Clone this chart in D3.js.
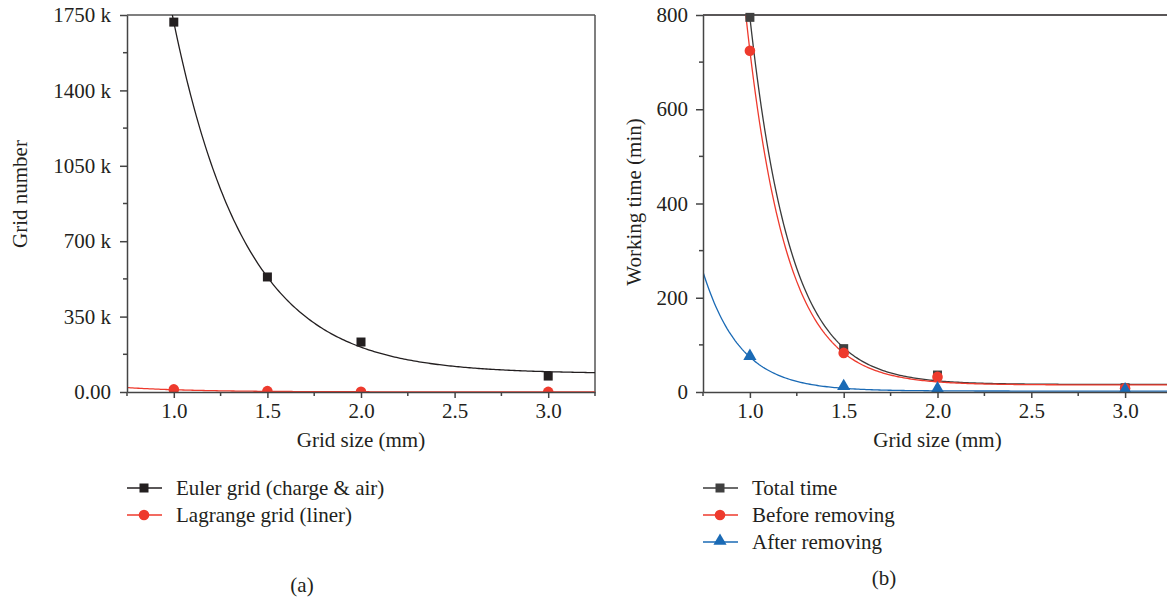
<!DOCTYPE html>
<html>
<head>
<meta charset="utf-8">
<script src="https://cdn.jsdelivr.net/npm/d3@7"></script>
<style>
  body { margin: 0; background: #fff; }
  svg text { font-family: "Liberation Serif", serif; fill: #231f20; }
</style>
</head>
<body>
<div id="chart"></div>
<script>
// grid sizes (mm)
var gridSize = [1.0, 1.5, 2.0, 3.0];

// (a) grid number, in k
var eulerGrid = [1717, 534, 232, 74];
var lagrangeGrid = [12, 4, 1, 0.5];
// exp decay fits: [y0, A, t] -> y0 + A*exp(-(x-1)/t)
var eulerFit = [85, 1632, 0.387];
var lagrangeFit = [0.5, 10, 0.36];

// (b) working time, in min
var totalTime = [795, 92, 36, 9];
var beforeRemoving = [724, 83, 32, 8];
var afterRemoving = [74, 10, 5, 3];
var totalFit = [16, 779, 0.217];
var beforeFit = [15, 709, 0.213];
var afterFit = [2, 72, 0.199];

var xTicks = [1.0, 1.5, 2.0, 2.5, 3.0];
var gridTicks = [0, 350, 700, 1050, 1400, 1750];
var timeTicks = [0, 200, 400, 600, 800];

var BLACK = "#231f20", GREY = "#3a3a3a", RED = "#ee3a2d", BLUE = "#1a6ab5";
var FS = 21;

var svg = d3.select("#chart").append("svg")
    .attr("width", 1167).attr("height", 599);

function fitLine(p) {
  return d3.range(0.75, 3.2501, 0.01).map(function(x) {
    return [x, p[0] + p[1] * Math.exp(-(x - 1) / p[2])];
  });
}

function marker(g, shape, color, cx, cy) {
  if (shape == "square") {
    g.append("rect").attr("x", cx - 4.5).attr("y", cy - 4.5)
      .attr("width", 9).attr("height", 9).attr("fill", color);
  } else if (shape == "circle") {
    g.append("circle").attr("cx", cx).attr("cy", cy).attr("r", 5.3).attr("fill", color);
  } else {
    g.append("path").attr("d", d3.symbol(d3.symbolTriangle, 75)())
      .attr("transform", "translate(" + cx + "," + (cy - 1) + ")").attr("fill", color);
  }
}

function drawPanel(cfg) {
  var x = d3.scaleLinear().domain([0.75, 3.25]).range([cfg.left, cfg.right]);
  var y = d3.scaleLinear().domain([0, cfg.ymax]).range([392, 15]);
  var id = "clip" + cfg.name;

  svg.append("clipPath").attr("id", id).append("rect")
    .attr("x", cfg.left).attr("y", 15).attr("width", cfg.right - cfg.left).attr("height", 377);
  svg.append("clipPath").attr("id", id + "m").append("rect")
    .attr("x", cfg.left).attr("y", 0).attr("width", cfg.right - cfg.left).attr("height", 392);

  // frame
  svg.append("line").attr("x1", cfg.left).attr("x2", cfg.right).attr("y1", 15).attr("y2", 15)
    .attr("stroke", cfg.frame).attr("stroke-width", 1.5);
  svg.append("line").attr("x1", cfg.right).attr("x2", cfg.right).attr("y1", 15).attr("y2", 392)
    .attr("stroke", cfg.frame).attr("stroke-width", 1.5);

  var line = d3.line().x(function(d) { return x(d[0]); }).y(function(d) { return y(d[1]); });
  var curves = svg.append("g").attr("clip-path", "url(#" + id + ")");
  var marks = svg.append("g").attr("clip-path", "url(#" + id + "m)");

  cfg.series.forEach(function(s) {
    curves.append("path").datum(fitLine(s.fit)).attr("d", line)
      .attr("fill", "none").attr("stroke", s.line || s.color).attr("stroke-width", 1.3);
  });
  cfg.series.forEach(function(s) {
    s.values.forEach(function(v, i) {
      marker(marks, s.shape, s.color, x(gridSize[i]), y(v));
    });
  });

  // axes
  var xAxis = d3.axisBottom(x).tickValues(xTicks).tickFormat(d3.format(".1f"))
    .tickSizeInner(6).tickSizeOuter(0).tickPadding(5);
  var gx = svg.append("g").attr("transform", "translate(0,392)").call(xAxis);
  gx.append("g").selectAll("line").data(d3.range(0.75, 3.26, 0.5)).enter().append("line")
    .attr("x1", function(d) { return x(d); }).attr("x2", function(d) { return x(d); })
    .attr("y1", 0).attr("y2", 4);

  var yAxis = d3.axisLeft(y).tickValues(cfg.yTicks).tickFormat(cfg.yFormat)
    .tickSizeInner(7).tickSizeOuter(0).tickPadding(cfg.ypad);
  var gy = svg.append("g").attr("transform", "translate(" + cfg.left + ",0)").call(yAxis);
  var step = cfg.yTicks[1] - cfg.yTicks[0];
  gy.append("g").selectAll("line").data(cfg.yTicks.slice(1).map(function(t) { return t - step / 2; }))
    .enter().append("line")
    .attr("y1", function(d) { return y(d); }).attr("y2", function(d) { return y(d); })
    .attr("x1", 0).attr("x2", -4);

  [gx, gy].forEach(function(g) {
    g.selectAll("path, line").attr("stroke", "#444").attr("stroke-width", 1.5);
    g.selectAll("text").attr("font-size", FS).attr("fill", BLACK)
      .style("font-family", "'Liberation Serif', serif");
  });

  svg.append("text").attr("x", (cfg.left + cfg.right) / 2).attr("y", 447)
    .attr("text-anchor", "middle").attr("font-size", FS).text("Grid size (mm)");
  svg.append("text").attr("transform", "translate(" + cfg.ylabelX + "," + cfg.ylabelY + ") rotate(-90)")
    .attr("text-anchor", "middle").attr("dy", "0.35em").attr("font-size", FS).text(cfg.ylabel);

  // legend
  cfg.series.forEach(function(s, i) {
    var ly = 488 + i * 27;
    svg.append("line").attr("x1", cfg.left).attr("x2", cfg.left + 35).attr("y1", ly).attr("y2", ly)
      .attr("stroke", s.line || s.color).attr("stroke-width", 1.3);
    marker(svg, s.shape, s.color, cfg.left + 17, ly);
    svg.append("text").attr("x", cfg.left + 49).attr("y", ly).attr("dy", "0.33em")
      .attr("font-size", FS).text(s.label);
  });

  svg.append("text").attr("x", cfg.capX).attr("y", cfg.capY).attr("text-anchor", "middle")
    .attr("font-size", FS).text(cfg.caption);
}

drawPanel({
  name: "a", left: 127, right: 595, ymax: 1750, yTicks: gridTicks, ypad: 9,
  yFormat: function(d) { return d == 0 ? "0.00" : d + " k"; },
  ylabel: "Grid number", ylabelX: 20, ylabelY: 194, frame: "#555",
  caption: "(a)", capX: 302, capY: 592,
  series: [
    { label: "Euler grid (charge & air)", values: eulerGrid, fit: eulerFit, shape: "square", color: BLACK },
    { label: "Lagrange grid (liner)", values: lagrangeGrid, fit: lagrangeFit, shape: "circle", color: RED }
  ]
});

drawPanel({
  name: "b", left: 703, right: 1172, ymax: 800, yTicks: timeTicks, ypad: 8,
  yFormat: function(d) { return d; },
  ylabel: "Working time (min)", ylabelX: 634, ylabelY: 202, frame: "#231f20",
  caption: "(b)", capX: 884, capY: 585,
  series: [
    { label: "Total time", values: totalTime, fit: totalFit, shape: "square", color: "#404040", line: GREY },
    { label: "Before removing", values: beforeRemoving, fit: beforeFit, shape: "circle", color: RED },
    { label: "After removing", values: afterRemoving, fit: afterFit, shape: "triangle", color: BLUE }
  ]
});
</script>
</body>
</html>
